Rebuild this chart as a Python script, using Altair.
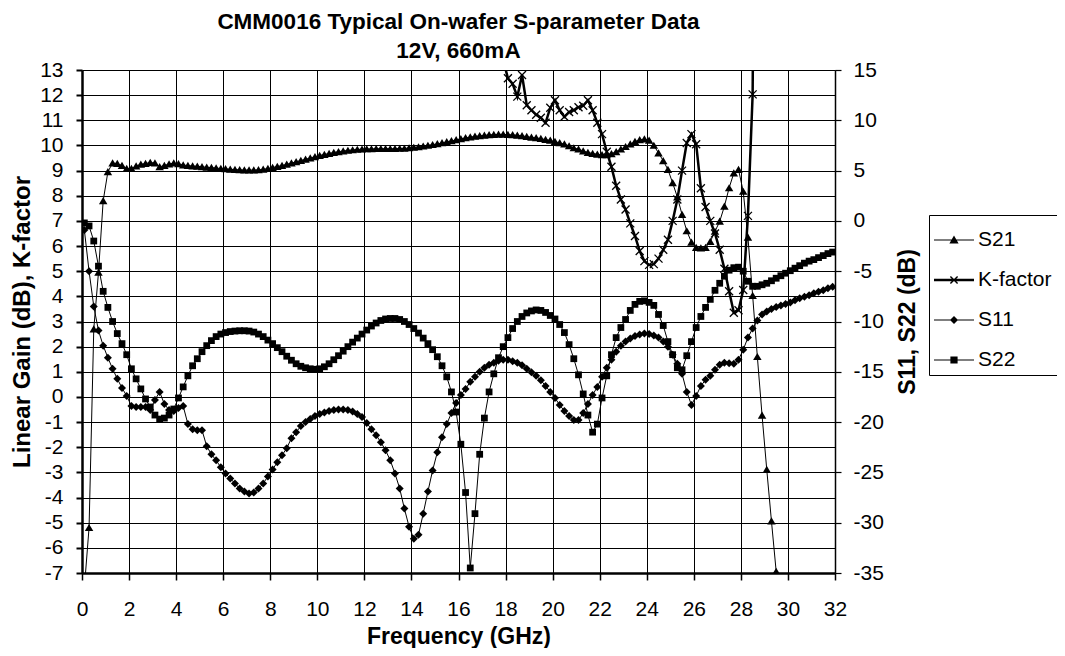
import altair as alt
import pandas as pd

FONT = "Liberation Sans"

# Frequency grid (GHz)
FREQ = [
    0.1, 0.3, 0.5, 0.7, 0.9, 1.1, 1.3, 1.5, 1.7, 1.9,
    2.1, 2.3, 2.5, 2.7, 2.9, 3.1, 3.3, 3.5, 3.7, 3.9,
    4.1, 4.3, 4.5, 4.7, 4.9, 5.1, 5.3, 5.5, 5.7, 5.9,
    6.1, 6.3, 6.5, 6.7, 6.9, 7.1, 7.3, 7.5, 7.7, 7.9,
    8.1, 8.3, 8.5, 8.7, 8.9, 9.1, 9.3, 9.5, 9.7, 9.9,
    10.1, 10.3, 10.5, 10.7, 10.9, 11.1, 11.3, 11.5, 11.7, 11.9,
    12.1, 12.3, 12.5, 12.7, 12.9, 13.1, 13.3, 13.5, 13.7, 13.9,
    14.1, 14.3, 14.5, 14.7, 14.9, 15.1, 15.3, 15.5, 15.7, 15.9,
    16.1, 16.3, 16.5, 16.7, 16.9, 17.1, 17.3, 17.5, 17.7, 17.9,
    18.1, 18.3, 18.5, 18.7, 18.9, 19.1, 19.3, 19.5, 19.7, 19.9,
    20.1, 20.3, 20.5, 20.7, 20.9, 21.1, 21.3, 21.5, 21.7, 21.9,
    22.1, 22.3, 22.5, 22.7, 22.9, 23.1, 23.3, 23.5, 23.7, 23.9,
    24.1, 24.3, 24.5, 24.7, 24.9, 25.1, 25.3, 25.5, 25.7, 25.9,
    26.1, 26.3, 26.5, 26.7, 26.9, 27.1, 27.3, 27.5, 27.7, 27.9,
    28.1, 28.3, 28.5, 28.7, 28.9, 29.1, 29.3, 29.5, 29.7, 29.9,
    30.1, 30.3, 30.5, 30.7, 30.9, 31.1, 31.3, 31.5, 31.7, 31.9,
]

# S21 linear gain (dB), left axis, 0.1 .. 29.7 GHz
S21 = [
    -7.6, -5.2, 2.7, 4.95, 7.8, 8.95, 9.3, 9.28, 9.2, 9.08,
    9.08, 9.18, 9.25, 9.28, 9.32, 9.3, 9.15, 9.2, 9.26, 9.3,
    9.27, 9.22, 9.2, 9.18, 9.17, 9.15, 9.13, 9.12, 9.1, 9.08,
    9.07, 9.05, 9.04, 9.03, 9.02, 9.02, 9.02, 9.03, 9.05, 9.08,
    9.12, 9.16, 9.2, 9.25, 9.3, 9.35, 9.4, 9.45, 9.5, 9.55,
    9.6, 9.64, 9.68, 9.72, 9.75, 9.78, 9.8, 9.82, 9.84, 9.85,
    9.86, 9.86, 9.87, 9.87, 9.87, 9.87, 9.87, 9.88, 9.88, 9.9,
    9.92, 9.94, 9.97, 10.0, 10.03, 10.06, 10.1, 10.14, 10.18, 10.22,
    10.26, 10.3, 10.33, 10.36, 10.38, 10.4, 10.42, 10.43, 10.44, 10.44,
    10.43, 10.42, 10.4, 10.38, 10.35, 10.32, 10.3, 10.27, 10.23, 10.2,
    10.15, 10.1, 10.05, 9.98, 9.9, 9.85, 9.78, 9.72, 9.68, 9.65,
    9.63, 9.63, 9.67, 9.75, 9.85, 9.95, 10.05, 10.15, 10.22, 10.25,
    10.2, 10.0, 9.7, 9.39, 9.04, 8.51, 7.95, 7.25, 6.6, 6.15,
    5.94, 5.92, 5.94, 6.18, 6.58, 6.98, 7.58, 8.31, 8.9, 9.04,
    8.17, 6.35, 4.03, 1.6, -0.73, -2.89, -4.94, -6.94, -12.0,
]

# K-factor, left axis, 17.9 .. 28.7 GHz
KF_START = 89
KF = [
    13.4, 12.67, 12.45, 11.94, 12.8, 11.6, 11.4, 11.22, 11.1, 10.9,
    11.5, 11.8, 11.4, 11.14, 11.33, 11.4, 11.52, 11.58, 11.8, 11.4,
    10.9, 10.45, 9.75, 9.15, 8.4, 7.85, 7.45, 6.9, 6.4, 5.8,
    5.4, 5.25, 5.28, 5.5, 5.85, 6.25, 7.0, 7.85, 9.0, 10.1,
    10.45, 10.05, 8.3, 7.55, 7.0, 6.5, 5.85, 5.1, 4.2, 3.35,
    3.45, 4.25, 7.2, 12.03, 40.0,
]

# S11 (dB), right axis
S11 = [
    -0.9, -5.0, -8.5, -10.9, -12.4, -13.6, -14.7, -15.7, -16.6, -17.4,
    -18.4, -18.5, -18.5, -18.5, -18.8, -17.8, -17.0, -18.2, -18.8, -18.9,
    -18.6, -18.4, -20.2, -20.7, -20.8, -20.8, -22.4, -23.2, -23.8, -24.5,
    -25.1, -25.6, -26.1, -26.6, -26.9, -27.1, -27.0, -26.6, -26.1, -25.4,
    -24.7, -24.0, -23.3, -22.6, -21.6, -21.0, -20.4, -20.0, -19.7, -19.4,
    -19.2, -19.05, -18.9, -18.8, -18.75, -18.75, -18.8, -18.95, -19.2, -19.5,
    -20.1, -20.7, -21.3, -22.0, -22.8, -23.8, -25.1, -26.6, -28.6, -30.4,
    -31.6, -31.2, -29.1, -26.9, -24.8, -23.0, -21.5, -20.2, -19.1, -18.1,
    -17.3, -16.7, -16.0, -15.5, -15.0, -14.6, -14.3, -14.1, -13.9, -13.8,
    -13.8, -13.95, -14.1, -14.35, -14.7, -15.05, -15.4, -15.85, -16.4, -17.0,
    -17.6, -18.3, -18.9, -19.4, -19.8, -19.8, -19.1, -18.2, -17.3, -16.5,
    -15.5, -14.6, -13.8, -13.0, -12.4, -12.0, -11.7, -11.45, -11.3, -11.2,
    -11.25, -11.4, -11.6, -12.0, -12.5, -13.3, -14.2, -15.2, -17.0, -18.3,
    -17.4, -16.4, -15.8, -15.4, -14.8, -14.3, -14.1, -14.15, -14.2, -13.8,
    -12.8, -11.6, -10.7, -9.9, -9.3, -9.0, -8.75, -8.55, -8.4, -8.25,
    -8.1, -7.9, -7.7, -7.55, -7.4, -7.2, -7.05, -6.9, -6.7, -6.55,
]

# S22 (dB), right axis
S22 = [
    -0.2, -0.5, -2.0, -4.5, -7.0, -8.6, -10.0, -11.2, -12.2, -13.3,
    -14.7, -15.7, -16.7, -17.7, -18.5, -19.3, -19.7, -19.6, -19.3, -18.7,
    -17.6, -16.5, -15.4, -14.4, -13.7, -13.0, -12.4, -11.9, -11.5, -11.25,
    -11.1, -11.0, -10.95, -10.92, -10.92, -10.95, -11.05, -11.25, -11.5, -11.85,
    -12.2, -12.6, -13.0, -13.45, -13.85, -14.2, -14.45, -14.6, -14.7, -14.75,
    -14.7, -14.5, -14.2, -13.8, -13.4, -12.95, -12.5, -12.05, -11.65, -11.25,
    -10.85, -10.45, -10.15, -9.9, -9.75, -9.7, -9.7, -9.8, -10.0, -10.3,
    -10.7, -11.15, -11.65, -12.2, -12.8, -13.5, -14.4, -15.5, -17.0, -19.0,
    -22.2, -27.0, -34.5, -29.1, -23.2, -19.6, -17.0, -15.2, -13.6, -12.5,
    -11.6, -10.7, -10.0, -9.5, -9.15, -8.95, -8.85, -8.9, -9.1, -9.4,
    -9.75, -10.3, -11.1, -12.3, -13.7, -15.3, -17.2, -19.3, -21.0, -20.2,
    -17.6, -15.4, -13.3, -11.6, -10.6, -9.8, -8.9, -8.3, -8.0, -7.95,
    -8.1, -8.4, -9.3, -10.4, -12.0, -13.3, -14.6, -14.8, -13.4, -12.0,
    -10.6, -9.5, -8.6, -7.8, -6.9, -6.2, -5.5, -4.9, -4.65, -4.6,
    -5.0, -6.0, -6.5, -6.5, -6.35, -6.2, -5.95, -5.7, -5.45, -5.2,
    -4.95, -4.7, -4.45, -4.2, -4.0, -3.85, -3.65, -3.45, -3.25, -3.1,
]

SERIES = ["S21", "K-factor", "S11", "S22"]
X_TICKS = list(range(0, 33, 2))
LEFT_TICKS = list(range(-7, 14))
RIGHT_TICKS = list(range(-35, 16, 5))

TITLE = ["CMM0016 Typical On-wafer S-parameter Data", "12V, 660mA"]
X_TITLE = "Frequency (GHz)"
YL_TITLE = "Linear Gain (dB), K-factor"
YR_TITLE = "S11, S22 (dB)"

# marker shapes (unit box)
TRI = "M0,-0.9L1,0.8L-1,0.8Z"
XSHAPE = "M-1,-1L1,1M-1,1L1,-1"
DIAM = "M0,-1L1,0L0,1L-1,0Z"
SQR = "M-1,-1H1V1H-1Z"

# legend symbols: line + marker drawn as filled paths
LEG_S21 = "M-1,-0.026H1V0.026H-1Z M0,-0.22L0.23,0.18L-0.23,0.18Z"
LEG_K = ("M-1,-0.064H1V0.064H-1Z M-0.155,-0.205L0.205,0.155L0.155,0.205L-0.205,-0.155Z "
         "M-0.205,0.155L0.155,-0.205L0.205,-0.155L-0.155,0.205Z")
LEG_S11 = "M-1,-0.026H1V0.026H-1Z M0,-0.2L0.2,0L0,0.2L-0.2,0Z"
LEG_S22 = "M-1,-0.026H1V0.026H-1Z M-0.18,-0.18H0.18V0.18H-0.18Z"

LABEL_EXPR = "'' + datum.value"

df_s21 = pd.DataFrame({"f": FREQ[:len(S21)], "v": S21})
df_k = pd.DataFrame({"f": FREQ[KF_START:KF_START + len(KF)], "v": KF})
df_s11 = pd.DataFrame({"f": FREQ, "v": S11})
df_s22 = pd.DataFrame({"f": FREQ, "v": S22})
df_leg = pd.DataFrame({"series": SERIES})

x_enc = alt.X(
    "f:Q",
    scale=alt.Scale(domain=[0, 32], nice=False, zero=False),
    axis=alt.Axis(
        values=X_TICKS, labelExpr=LABEL_EXPR, grid=True, gridColor="black", gridWidth=1,
        domainColor="black", domainWidth=2.5, tickColor="black", tickWidth=1.5,
        tickSize=7, labelFontSize=21, labelPadding=18, labelFlush=False,
        labelOverlap=False, labelColor="black", labelFont=FONT,
        title=X_TITLE, titleFont=FONT, titleFontSize=23, titleFontWeight="bold",
        titleColor="black", titleX=376.5, titleY=70, titleBaseline="alphabetic",
        titleAlign="center",
    ),
)

yl_enc = alt.Y(
    "v:Q",
    scale=alt.Scale(domain=[-7, 13], nice=False, zero=False),
    axis=alt.Axis(
        orient="left", values=LEFT_TICKS, labelExpr=LABEL_EXPR, grid=True, gridColor="black",
        gridWidth=1, domainColor="black", domainWidth=2.5, tickColor="black",
        tickWidth=2, tickSize=6, labelFontSize=21, labelPadding=13,
        labelOverlap=False, labelColor="black", labelFont=FONT,
        title=YL_TITLE, titleFont=FONT, titleFontSize=24, titleFontWeight="bold",
        titleColor="black", titleAngle=270, titleX=-53, titleY=251.5,
        titleBaseline="alphabetic", titleAlign="center",
    ),
)

yr_enc = alt.Y(
    "v:Q",
    scale=alt.Scale(domain=[-35, 15], nice=False, zero=False),
    axis=alt.Axis(
        orient="right", values=RIGHT_TICKS, labelExpr=LABEL_EXPR, grid=False,
        domainColor="black", domainWidth=1.5, tickColor="black", tickWidth=1.2,
        tickSize=6, labelFontSize=21, labelPadding=12, labelOverlap=False,
        labelColor="black", labelFont=FONT,
        title=YR_TITLE, titleFont=FONT, titleFontSize=23, titleFontWeight="bold",
        titleColor="black", titleAngle=270, titleX=79, titleY=251.5,
        titleBaseline="alphabetic", titleAlign="center",
    ),
)


def line(df, y, width=1.0):
    return alt.Chart(df).mark_line(color="black", strokeWidth=width, clip=True).encode(x=x_enc, y=y)


def pts(df, y, shape, size, filled=True, sw=0.0):
    return alt.Chart(df).mark_point(
        shape=shape, size=size, filled=filled, color="black", opacity=1,
        strokeWidth=sw, clip=True,
    ).encode(x=x_enc, y=y)


left = alt.layer(
    line(df_s21, yl_enc, 1.0),
    pts(df_s21, yl_enc, TRI, 72),
    line(df_k, yl_enc, 2.5),
    pts(df_k, yl_enc, XSHAPE, 64, filled=False, sw=1.3),
)

right = alt.layer(
    line(df_s11, yr_enc, 1.0),
    pts(df_s11, yr_enc, DIAM, 64),
    line(df_s22, yr_enc, 1.0),
    pts(df_s22, yr_enc, SQR, 46),
)

legend_layer = alt.Chart(df_leg).mark_point(
    filled=True, color="black", opacity=1, strokeWidth=0
).encode(
    shape=alt.Shape(
        "series:N",
        scale=alt.Scale(domain=SERIES, range=[LEG_S21, LEG_K, LEG_S11, LEG_S22]),
        legend=alt.Legend(
            title=None, orient="none", legendX=847, legendY=145,
            padding=5, rowPadding=10, labelFont=FONT, labelFontSize=21,
            labelColor="black", labelOffset=4, strokeColor="black",
            fillColor="white", symbolSize=1600, symbolStrokeWidth=0,
            symbolFillColor="black", symbolOpacity=1,
        ),
    )
).transform_filter("datum.series == 'none'")

chart = alt.layer(left, right, legend_layer).resolve_scale(
    y="independent"
).properties(
    width=753,
    height=503,
    autosize=alt.AutoSizeParams(type="none"),
    padding={"left": 74, "top": 62, "right": 222, "bottom": 75},
    title=alt.TitleParams(
        text=TITLE, font=FONT, fontSize=22.5, fontWeight="bold", color="black",
        anchor="middle", lineHeight=29, offset=-3,
    ),
    background="white",
).configure_view(stroke=None)

chart.save("out.html", embed_options={"renderer": "svg", "actions": False})
